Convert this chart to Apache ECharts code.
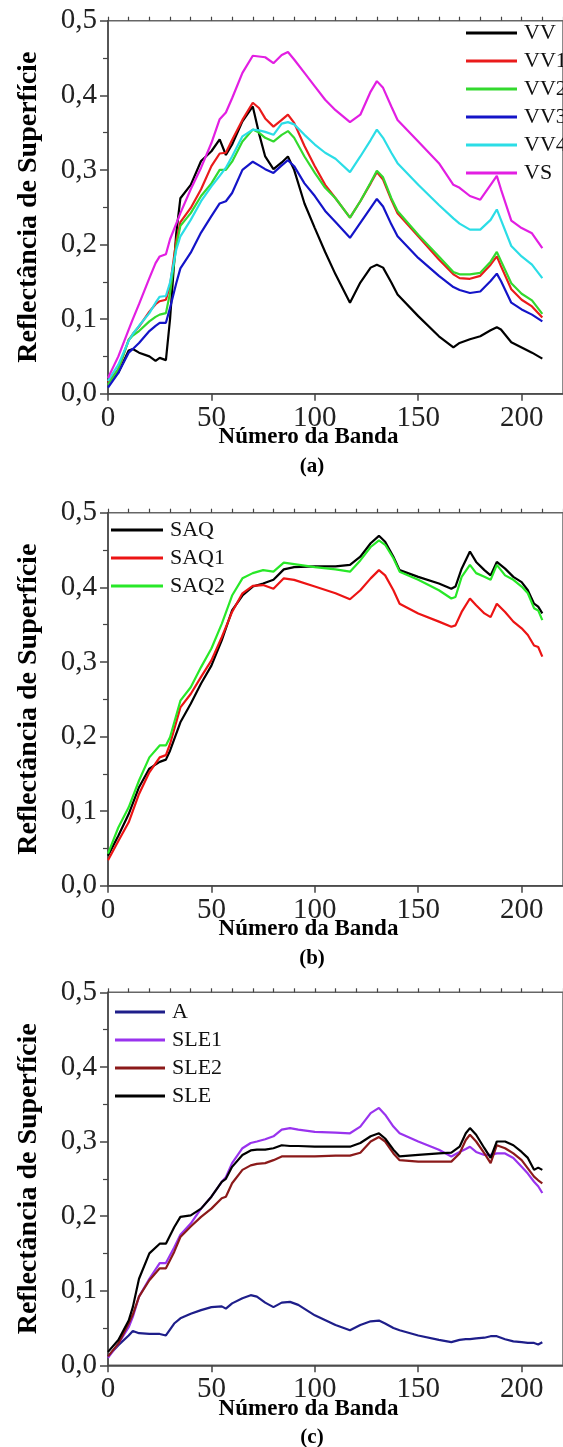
<!DOCTYPE html>
<html>
<head>
<meta charset="utf-8">
<script src="https://cdn.jsdelivr.net/npm/echarts@6/dist/echarts.min.js"></script>
<style>
html, body { margin: 0; padding: 0; background: #fff; }
#chart { width: 563px; height: 1447px; }
</style>
</head>
<body>
<div id="chart"></div>
<script>
// panel (a)
var bandsA = [0, 5, 10, 12, 15, 20, 23, 25, 28, 30, 33, 35, 40, 45, 50, 54, 57, 60, 65, 70, 73, 76, 80, 84, 87, 90, 95, 100, 105, 110, 117, 122, 127, 130, 133, 137, 140, 150, 160, 167, 170, 175, 180, 185, 188, 190, 195, 200, 205, 210];
var vv = [0.015, 0.028, 0.058, 0.060, 0.055, 0.050, 0.044, 0.048, 0.045, 0.100, 0.215, 0.262, 0.280, 0.312, 0.325, 0.341, 0.320, 0.334, 0.365, 0.385, 0.349, 0.318, 0.301, 0.310, 0.318, 0.300, 0.255, 0.222, 0.190, 0.160, 0.122, 0.149, 0.169, 0.173, 0.169, 0.149, 0.133, 0.104, 0.077, 0.062, 0.068, 0.073, 0.077, 0.085, 0.089, 0.086, 0.069, 0.062, 0.055, 0.047];
var vv1 = [0.015, 0.033, 0.072, 0.080, 0.090, 0.110, 0.120, 0.124, 0.126, 0.145, 0.205, 0.230, 0.249, 0.274, 0.305, 0.322, 0.323, 0.340, 0.367, 0.390, 0.383, 0.369, 0.358, 0.367, 0.374, 0.363, 0.332, 0.305, 0.280, 0.262, 0.236, 0.258, 0.282, 0.297, 0.287, 0.260, 0.242, 0.211, 0.180, 0.160, 0.155, 0.154, 0.158, 0.173, 0.184, 0.171, 0.140, 0.126, 0.117, 0.102];
var vv2 = [0.012, 0.033, 0.072, 0.078, 0.084, 0.097, 0.103, 0.106, 0.108, 0.135, 0.198, 0.225, 0.242, 0.265, 0.282, 0.300, 0.300, 0.311, 0.338, 0.354, 0.350, 0.343, 0.338, 0.347, 0.352, 0.343, 0.318, 0.296, 0.276, 0.262, 0.236, 0.258, 0.283, 0.299, 0.290, 0.262, 0.245, 0.213, 0.184, 0.163, 0.160, 0.160, 0.162, 0.177, 0.190, 0.178, 0.148, 0.134, 0.125, 0.107];
var vv3 = [0.008, 0.028, 0.055, 0.060, 0.068, 0.084, 0.091, 0.095, 0.095, 0.115, 0.148, 0.168, 0.189, 0.216, 0.238, 0.255, 0.258, 0.269, 0.300, 0.311, 0.306, 0.301, 0.296, 0.306, 0.313, 0.305, 0.282, 0.265, 0.245, 0.230, 0.209, 0.229, 0.249, 0.261, 0.251, 0.227, 0.211, 0.182, 0.158, 0.143, 0.139, 0.135, 0.137, 0.151, 0.161, 0.151, 0.122, 0.113, 0.106, 0.097];
var vv4 = [0.017, 0.039, 0.071, 0.080, 0.091, 0.108, 0.122, 0.130, 0.131, 0.149, 0.193, 0.211, 0.233, 0.258, 0.278, 0.292, 0.303, 0.318, 0.345, 0.354, 0.353, 0.351, 0.347, 0.362, 0.364, 0.361, 0.347, 0.334, 0.323, 0.315, 0.297, 0.318, 0.340, 0.354, 0.343, 0.323, 0.309, 0.280, 0.253, 0.235, 0.228, 0.220, 0.220, 0.233, 0.247, 0.233, 0.198, 0.184, 0.173, 0.155];
var vs = [0.021, 0.050, 0.086, 0.100, 0.120, 0.155, 0.175, 0.184, 0.187, 0.207, 0.228, 0.242, 0.274, 0.303, 0.336, 0.368, 0.377, 0.396, 0.430, 0.453, 0.452, 0.451, 0.443, 0.454, 0.458, 0.448, 0.430, 0.412, 0.394, 0.380, 0.364, 0.374, 0.405, 0.419, 0.410, 0.385, 0.367, 0.338, 0.309, 0.280, 0.276, 0.265, 0.260, 0.280, 0.292, 0.274, 0.232, 0.222, 0.215, 0.195];

// panel (b)
var bandsB = [0, 5, 10, 15, 20, 25, 28, 30, 35, 40, 45, 50, 55, 60, 65, 70, 75, 80, 85, 90, 100, 110, 117, 122, 127, 131, 134, 138, 141, 150, 160, 166, 168, 171, 175, 178, 182, 185, 188, 192, 196, 200, 203, 206, 208, 210];
var saq = [0.040, 0.067, 0.096, 0.132, 0.157, 0.166, 0.169, 0.181, 0.219, 0.244, 0.271, 0.295, 0.329, 0.369, 0.389, 0.401, 0.405, 0.410, 0.424, 0.427, 0.428, 0.428, 0.430, 0.441, 0.459, 0.469, 0.461, 0.441, 0.423, 0.414, 0.405, 0.398, 0.401, 0.425, 0.448, 0.434, 0.423, 0.416, 0.434, 0.425, 0.414, 0.407, 0.396, 0.378, 0.374, 0.365];
var saq1 = [0.034, 0.060, 0.085, 0.123, 0.152, 0.172, 0.175, 0.190, 0.239, 0.257, 0.280, 0.302, 0.333, 0.367, 0.392, 0.402, 0.403, 0.398, 0.412, 0.410, 0.401, 0.392, 0.384, 0.396, 0.412, 0.423, 0.416, 0.396, 0.378, 0.365, 0.354, 0.347, 0.349, 0.367, 0.385, 0.376, 0.365, 0.360, 0.378, 0.367, 0.354, 0.345, 0.336, 0.322, 0.320, 0.307];
var saq2 = [0.043, 0.078, 0.105, 0.141, 0.172, 0.188, 0.188, 0.199, 0.248, 0.266, 0.293, 0.318, 0.351, 0.389, 0.412, 0.419, 0.423, 0.421, 0.433, 0.431, 0.427, 0.424, 0.421, 0.436, 0.454, 0.463, 0.457, 0.439, 0.421, 0.410, 0.396, 0.385, 0.387, 0.414, 0.430, 0.419, 0.414, 0.410, 0.430, 0.416, 0.410, 0.401, 0.392, 0.372, 0.369, 0.356];

// panel (c)
var bandsC = [0, 5, 10, 12, 15, 20, 25, 28, 32, 35, 40, 45, 50, 55, 57, 60, 65, 69, 72, 76, 80, 84, 88, 92, 100, 110, 117, 122, 127, 131, 134, 138, 141, 150, 160, 166, 170, 173, 175, 178, 182, 185, 188, 192, 196, 200, 203, 206, 208, 210];
var a = [0.012, 0.027, 0.040, 0.046, 0.043, 0.042, 0.042, 0.040, 0.056, 0.063, 0.069, 0.074, 0.078, 0.079, 0.076, 0.083, 0.090, 0.094, 0.092, 0.084, 0.078, 0.084, 0.085, 0.081, 0.067, 0.054, 0.047, 0.054, 0.059, 0.060, 0.056, 0.050, 0.047, 0.040, 0.034, 0.031, 0.034, 0.035, 0.035, 0.036, 0.037, 0.039, 0.039, 0.035, 0.032, 0.031, 0.030, 0.030, 0.028, 0.031];
var sle1 = [0.010, 0.029, 0.051, 0.065, 0.092, 0.116, 0.137, 0.137, 0.158, 0.175, 0.190, 0.210, 0.226, 0.246, 0.252, 0.271, 0.291, 0.298, 0.300, 0.303, 0.307, 0.316, 0.318, 0.316, 0.313, 0.312, 0.311, 0.320, 0.338, 0.345, 0.336, 0.320, 0.311, 0.300, 0.289, 0.280, 0.286, 0.290, 0.293, 0.286, 0.282, 0.282, 0.284, 0.284, 0.278, 0.266, 0.257, 0.246, 0.240, 0.231];
var sle2 = [0.012, 0.029, 0.056, 0.068, 0.092, 0.114, 0.130, 0.130, 0.152, 0.172, 0.186, 0.199, 0.210, 0.224, 0.226, 0.244, 0.262, 0.268, 0.270, 0.271, 0.275, 0.280, 0.280, 0.280, 0.280, 0.281, 0.281, 0.285, 0.300, 0.306, 0.300, 0.284, 0.275, 0.273, 0.273, 0.273, 0.284, 0.302, 0.309, 0.300, 0.284, 0.271, 0.295, 0.291, 0.284, 0.275, 0.264, 0.253, 0.248, 0.244];
var sle = [0.018, 0.034, 0.060, 0.078, 0.116, 0.150, 0.163, 0.163, 0.185, 0.199, 0.201, 0.210, 0.226, 0.246, 0.250, 0.266, 0.282, 0.288, 0.289, 0.289, 0.291, 0.295, 0.294, 0.294, 0.293, 0.293, 0.293, 0.298, 0.307, 0.311, 0.304, 0.289, 0.280, 0.282, 0.284, 0.285, 0.293, 0.311, 0.318, 0.309, 0.291, 0.278, 0.300, 0.300, 0.295, 0.286, 0.278, 0.262, 0.265, 0.262];

var panelTops = [20.7, 512.7, 992.3];
var panelHeight = 373;
var serif = 'Liberation Serif';

function pairs(bands, vals) {
    return bands.map(function (b, i) { return [b, vals[i]]; });
}

var grids = [], xAxes = [], yAxes = [], titles = [];
panelTops.forEach(function (top, g) {
    grids.push({
        left: 108, top: top, width: 460.7, height: panelHeight,
        show: true, borderColor: '#666', borderWidth: 1.5
    });
    //major x ticks + labels
    xAxes.push({
        type: 'value', gridIndex: g, min: 0, max: 220, interval: 50,
        name: 'Número da Banda', nameLocation: 'middle', nameGap: 32, nameMoveOverlap: false,
        nameTextStyle: { fontFamily: serif, fontWeight: 'bold', fontSize: 23, color: '#000', padding: [0, 54, 0, 0] },
        axisLine: { lineStyle: { color: '#444', width: 1.5 } },
        axisTick: { length: 7, lineStyle: { color: '#444', width: 1.5 } },
        axisLabel: { showMaxLabel: false, margin: 10, fontFamily: serif, fontSize: 29, color: '#222' },
        splitLine: { show: false }
    });
    //minor x ticks every 10
    xAxes.push({
        type: 'value', gridIndex: g, min: 0, max: 220, interval: 10,
        axisLine: { show: false },
        axisTick: { length: 4, lineStyle: { color: '#444', width: 1.2 } },
        axisLabel: { show: false },
        splitLine: { show: false }
    });
    yAxes.push({
        type: 'value', gridIndex: g, min: 0, max: 0.5, interval: 0.1,
        name: 'Reflectância de Superfície', nameLocation: 'middle', nameGap: 65, nameMoveOverlap: false,
        nameTextStyle: { fontFamily: serif, fontWeight: 'bold', fontSize: 28, color: '#000' },
        axisLine: { show: true, lineStyle: { color: '#444', width: 1.5 } },
        axisTick: { show: true, length: 8, lineStyle: { color: '#444', width: 1.5 } },
        minorTick: { show: true, splitNumber: 2, length: 5, lineStyle: { color: '#444', width: 1.2 } },
        axisLabel: {
            margin: 11, fontFamily: serif, fontSize: 29, color: '#222',
            formatter: function (v) { return v.toFixed(1).replace('.', ','); }
        },
        splitLine: { show: false }
    });
    titles.push({
        text: ['(a)', '(b)', '(c)'][g],
        left: 312, top: top + panelHeight + 62, textAlign: 'center', padding: 0,
        textStyle: { fontFamily: serif, fontWeight: 'bold', fontSize: 21, color: '#000' }
    });
});

function line(name, bands, vals, color, g) {
    return {
        name: name, type: 'line', xAxisIndex: g * 2, yAxisIndex: g,
        data: pairs(bands, vals), showSymbol: false,
        lineStyle: { color: color, width: 2.2 }, itemStyle: { color: color }
    };
}

var legendText = { fontFamily: serif, fontSize: 22, color: '#111', lineHeight: 28, padding: [0, 0, 0, 2] };
function legend(names, left, top, width) {
    return {
        data: names, orient: 'vertical', left: left, top: top, padding: 0,
        icon: 'rect', itemWidth: width, itemHeight: 3, itemGap: 0,
        textStyle: legendText
    };
}

var chart = echarts.init(document.getElementById('chart'));
chart.setOption({
    backgroundColor: '#fff',
    animation: false,
    title: titles,
    grid: grids,
    xAxis: xAxes,
    yAxis: yAxes,
    legend: [
        legend(['VV', 'VV1', 'VV2', 'VV3', 'VV4', 'VS'], 466, 19, 51),
        legend(['SAQ', 'SAQ1', 'SAQ2'], 111, 516, 52),
        legend(['A', 'SLE1', 'SLE2', 'SLE'], 115, 998, 50)
    ],
    series: [
        line('VV', bandsA, vv, '#000000', 0),
        line('VV1', bandsA, vv1, '#ea1b1b', 0),
        line('VV2', bandsA, vv2, '#33d92e', 0),
        line('VV3', bandsA, vv3, '#1414c8', 0),
        line('VV4', bandsA, vv4, '#2bdde6', 0),
        line('VS', bandsA, vs, '#e21fe2', 0),
        line('SAQ', bandsB, saq, '#000000', 1),
        line('SAQ1', bandsB, saq1, '#ec1414', 1),
        line('SAQ2', bandsB, saq2, '#28e828', 1),
        line('A', bandsC, a, '#1e1e8a', 2),
        line('SLE1', bandsC, sle1, '#9933ee', 2),
        line('SLE2', bandsC, sle2, '#8b1a1a', 2),
        line('SLE', bandsC, sle, '#000000', 2)
    ]
});
</script>
</body>
</html>
